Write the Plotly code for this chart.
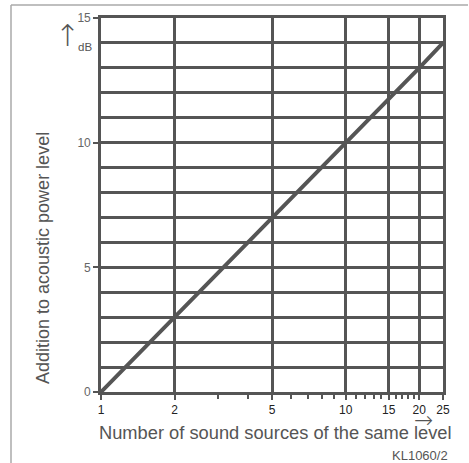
import plotly.graph_objects as go

# Data
sources = [1, 2, 5, 10, 20, 25]
addition_db = [0, 3, 7, 10, 13, 14]

x_major = [1, 2, 5, 10, 15, 20, 25]
x_major_labels = ["1", "2", "5", "10", "15", "20", "25"]
x_minor = [3, 4, 6, 7, 8, 9, 11, 12, 13, 14, 16, 17, 18, 19]
y_major = [0, 5, 10, 15]
y_major_labels = ["0", "5", "10", "15"]

GRID = "#555555"
FONT = "Liberation Sans, Arial, sans-serif"
ARROWFONT = "DejaVu Sans ExtraLight, DejaVu Sans"

fig = go.Figure()
fig.add_trace(go.Scatter(x=sources, y=addition_db, mode="lines",
                         line=dict(color="#555555", width=4), hoverinfo="skip"))

fig.update_layout(
    width=469, height=463,
    margin=dict(l=101, r=26, t=18, b=71),
    paper_bgcolor="white", plot_bgcolor="white",
    showlegend=False,
    font=dict(family=FONT, color="#555555"),
)

fig.update_xaxes(
    type="log", range=[0, 1.39794],
    tickmode="array", tickvals=x_major, ticktext=x_major_labels,
    showgrid=True, gridcolor=GRID, gridwidth=2.6,
    ticks="outside", ticklen=5, tickwidth=1.5, tickcolor=GRID,
    tickfont=dict(size=12, color="#222222", family=FONT),
    minor=dict(tickmode="array", tickvals=x_minor, ticks="outside",
               ticklen=4, tickwidth=1.5, tickcolor=GRID, showgrid=False),
    showline=True, linecolor=GRID, linewidth=2.6, mirror=True,
    zeroline=False, fixedrange=True,
)
fig.update_yaxes(
    range=[0, 15],
    tickmode="array", tickvals=y_major, ticktext=y_major_labels,
    showgrid=True, gridcolor=GRID, gridwidth=2.6,
    ticks="outside", ticklen=5, tickwidth=1.5, tickcolor=GRID,
    tickfont=dict(size=12, color="#666666", family=FONT),
    minor=dict(dtick=1, showgrid=True, gridcolor=GRID, gridwidth=2.6, ticks=""),
    showline=True, linecolor=GRID, linewidth=2.6, mirror=True,
    zeroline=False, fixedrange=True,
)

# light frame (left and top)
fig.add_shape(type="line", xref="paper", yref="paper",
              x0=-90/342, x1=-90/342, y0=-71/374, y1=(374+13)/374,
              line=dict(color="#aaaaaa", width=1.5))
fig.add_shape(type="line", xref="paper", yref="paper",
              x0=-90/342, x1=(342+25)/342, y0=(374+13)/374, y1=(374+13)/374,
              line=dict(color="#aaaaaa", width=1.5))

def px(x):  # pixel to paper x
    return (x - 101) / 342

def py(y):  # pixel to paper y
    return (392 - y) / 374

annots = [
    dict(text="↑", x=px(67), y=py(36), size=30, fam=ARROWFONT, w=200),
    dict(text="dB", x=px(85), y=py(47), size=11.5, fam=FONT, w=400),
    dict(text="→", x=px(423), y=py(419.5), size=23, fam=ARROWFONT, w=200),
    dict(text="Number of sound sources of the same level", x=px(275), y=py(432), size=18.3, fam=FONT, w=400),
    dict(text="KL1060/2", x=px(420), y=py(455), size=13, fam=FONT, w=400),
]
for a in annots:
    fig.add_annotation(text=a["text"], x=a["x"], y=a["y"], xref="paper", yref="paper",
                       showarrow=False, xanchor="center", yanchor="middle",
                       font=dict(size=a["size"], color="#555555", family=a["fam"], weight=a["w"]))
fig.add_annotation(text="Addition to acoustic power level", x=px(43), y=py(258),
                   xref="paper", yref="paper", showarrow=False, textangle=-90,
                   xanchor="center", yanchor="middle",
                   font=dict(size=18, color="#555555", family=FONT))

fig.write_html("out.html", config={"displayModeBar": False},
               post_script="document.body.style.margin='0';document.body.style.overflow='hidden';")
